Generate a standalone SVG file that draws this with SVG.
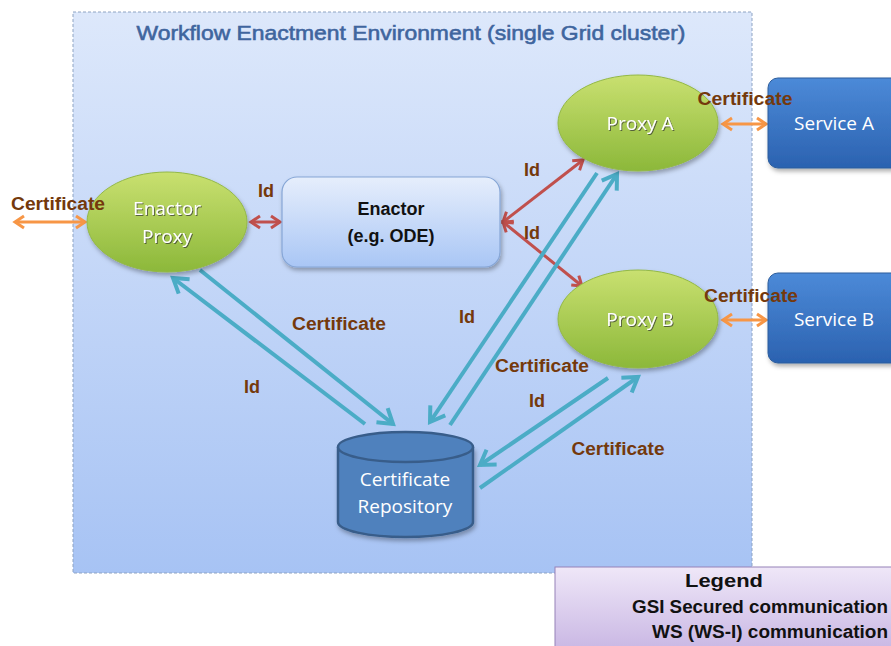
<svg xmlns="http://www.w3.org/2000/svg" width="891" height="646" viewBox="0 0 891 646">
<defs>
  <linearGradient id="gEnv" x1="0" y1="0" x2="0" y2="1">
    <stop offset="0" stop-color="#dde8fb"/>
    <stop offset="1" stop-color="#a7c3f4"/>
  </linearGradient>
  <linearGradient id="gGreen" x1="0" y1="0" x2="0" y2="1">
    <stop offset="0" stop-color="#c9e070"/>
    <stop offset="1" stop-color="#8cb83a"/>
  </linearGradient>
  <linearGradient id="gEnactor" x1="0" y1="0" x2="0" y2="1">
    <stop offset="0" stop-color="#e6eefc"/>
    <stop offset="1" stop-color="#a9c6f5"/>
  </linearGradient>
  <linearGradient id="gService" x1="0" y1="0" x2="0" y2="1">
    <stop offset="0" stop-color="#4c8ad8"/>
    <stop offset="1" stop-color="#2b62b0"/>
  </linearGradient>
  <linearGradient id="gLegend" x1="0" y1="0" x2="0" y2="1">
    <stop offset="0" stop-color="#efe7f8"/>
    <stop offset="1" stop-color="#c6b3e2"/>
  </linearGradient>
  <filter id="shadow" x="-20%" y="-20%" width="140%" height="150%">
    <feDropShadow dx="1.5" dy="3" stdDeviation="2" flood-color="#000" flood-opacity="0.3"/>
  </filter>
  <filter id="tshadow" x="-10%" y="-20%" width="120%" height="150%">
    <feDropShadow dx="1" dy="1" stdDeviation="0.6" flood-color="#333" flood-opacity="0.7"/>
  </filter>
  <marker id="mTeal" markerUnits="userSpaceOnUse" markerWidth="24" markerHeight="24" viewBox="-2 -2 24 24" refX="16" refY="10" orient="auto-start-reverse">
    <path d="M2,1 L16,10 L2,19" fill="none" stroke="#4bacc6" stroke-width="4" stroke-linejoin="miter"/>
  </marker>
  <marker id="mOrange" markerUnits="userSpaceOnUse" markerWidth="18" markerHeight="18" viewBox="-2 -2 18 18" refX="11" refY="7" orient="auto-start-reverse">
    <path d="M2,1 L11,7 L2,13" fill="none" stroke="#f79646" stroke-width="3"/>
  </marker>
  <marker id="mRed" markerUnits="userSpaceOnUse" markerWidth="18" markerHeight="18" viewBox="-2 -2 18 18" refX="11" refY="7" orient="auto-start-reverse">
    <path d="M2,1 L11,7 L2,13" fill="none" stroke="#c0504d" stroke-width="3"/>
  </marker>
  <style>
    .lbl { font-family: "Liberation Sans", Arial, sans-serif; font-weight: bold; font-size: 18px; fill: #74390c; text-anchor: middle; }
    .wt { font-family: "Open Sans", "Liberation Sans", sans-serif; font-size: 19px; fill: #ffffff; text-anchor: middle; }
    .bt { font-family: "Liberation Sans", Arial, sans-serif; font-weight: bold; font-size: 18px; fill: #111; text-anchor: middle; }
    .teal { stroke: #4bacc6; stroke-width: 4; fill: none; marker-end: url(#mTeal); }
    .orange { stroke: #f79646; stroke-width: 3; fill: none; marker-start: url(#mOrange); marker-end: url(#mOrange); }
    .red { stroke: #c0504d; stroke-width: 3; fill: none; marker-start: url(#mRed); marker-end: url(#mRed); }
    .green { fill: url(#gGreen); stroke: #93b845; stroke-width: 1; filter: url(#shadow); }
    .svc { fill: url(#gService); stroke: #2c5d9c; stroke-width: 1; filter: url(#shadow); }
  </style>
</defs>

<rect width="891" height="646" fill="#ffffff"/>

<g id="environment">
  <rect x="73" y="12" width="679" height="561" fill="url(#gEnv)" stroke="#8ea3c2" stroke-width="1" stroke-dasharray="3,2"/>
  <text x="411" y="40" font-family="Liberation Sans Narrow, Liberation Sans, Arial, sans-serif" font-size="21" fill="#3f659e" stroke="#3f659e" stroke-width="0.6" text-anchor="middle" textLength="549" lengthAdjust="spacingAndGlyphs">Workflow Enactment Environment (single Grid cluster)</text>
</g>

<g id="connectors">
  <line class="orange" x1="15" y1="222" x2="85" y2="222"/>
  <line class="red" x1="251" y1="222" x2="280" y2="222"/>
  <line class="red" x1="503" y1="222" x2="583" y2="160"/>
  <line class="red" x1="503" y1="222" x2="582" y2="286"/>
  <line class="orange" x1="723" y1="124" x2="766" y2="124"/>
  <line class="orange" x1="723" y1="320" x2="766" y2="320"/>
  <line class="teal" x1="200" y1="270" x2="393" y2="424"/>
  <line class="teal" x1="365" y1="424" x2="173" y2="278"/>
  <line class="teal" x1="597" y1="173" x2="430" y2="422"/>
  <line class="teal" x1="450" y1="425" x2="617" y2="174"/>
  <line class="teal" x1="608" y1="378" x2="480" y2="465"/>
  <line class="teal" x1="480" y1="488" x2="638" y2="377"/>
</g>

<g id="enactor-proxy">
  <ellipse class="green" cx="167" cy="222" rx="80" ry="50"/>
  <text class="wt" x="167" y="215" filter="url(#tshadow)">Enactor</text>
  <text class="wt" x="167" y="243" filter="url(#tshadow)">Proxy</text>
</g>

<g id="enactor">
  <rect x="282" y="177" width="218" height="90" rx="15" fill="url(#gEnactor)" stroke="#86a6d6" stroke-width="1.2" filter="url(#shadow)"/>
  <text class="bt" x="391" y="215">Enactor</text>
  <text class="bt" x="391" y="242">(e.g. ODE)</text>
</g>

<g id="proxy-a">
  <ellipse class="green" cx="638" cy="123" rx="80" ry="48"/>
  <text class="wt" x="640" y="130" filter="url(#tshadow)">Proxy A</text>
</g>

<g id="proxy-b">
  <ellipse class="green" cx="638" cy="319" rx="80" ry="49"/>
  <text class="wt" x="640" y="326" filter="url(#tshadow)">Proxy B</text>
</g>

<g id="service-a">
  <rect class="svc" x="768" y="78" width="140" height="90" rx="10"/>
  <text class="wt" x="834" y="130">Service A</text>
</g>

<g id="service-b">
  <rect class="svc" x="768" y="273" width="140" height="90" rx="10"/>
  <text class="wt" x="834" y="326">Service B</text>
</g>

<g id="certificate-repository">
  <path d="M338,447 L338,522 A67.5,15 0 0 0 473,522 L473,447" fill="#4f81bd" stroke="#385d8a" stroke-width="2.5" filter="url(#shadow)"/>
  <ellipse cx="405.5" cy="447" rx="67.5" ry="15" fill="#4f81bd" stroke="#385d8a" stroke-width="2.5"/>
  <text class="wt" x="405" y="486">Certificate</text>
  <text class="wt" x="405" y="513">Repository</text>
</g>

<g id="labels">
  <text class="lbl" x="58" y="210" textLength="94" lengthAdjust="spacingAndGlyphs">Certificate</text>
  <text class="lbl" x="266" y="197">Id</text>
  <text class="lbl" x="532" y="176">Id</text>
  <text class="lbl" x="532" y="239">Id</text>
  <text class="lbl" x="745" y="105" textLength="95" lengthAdjust="spacingAndGlyphs">Certificate</text>
  <text class="lbl" x="751" y="302" textLength="94" lengthAdjust="spacingAndGlyphs">Certificate</text>
  <text class="lbl" x="339" y="330" textLength="94" lengthAdjust="spacingAndGlyphs">Certificate</text>
  <text class="lbl" x="252" y="393">Id</text>
  <text class="lbl" x="467" y="323">Id</text>
  <text class="lbl" x="542" y="372" textLength="94" lengthAdjust="spacingAndGlyphs">Certificate</text>
  <text class="lbl" x="537" y="407">Id</text>
  <text class="lbl" x="618" y="455" textLength="93" lengthAdjust="spacingAndGlyphs">Certificate</text>
</g>

<g id="legend">
  <rect x="555" y="567" width="345" height="90" fill="url(#gLegend)" stroke="#9582b8" stroke-width="1"/>
  <text class="bt" x="724" y="587" textLength="78" lengthAdjust="spacingAndGlyphs">Legend</text>
  <text class="bt" x="632" y="613" style="text-anchor:start" textLength="256" lengthAdjust="spacingAndGlyphs">GSI Secured communication</text>
  <text class="bt" x="652" y="638" style="text-anchor:start" textLength="236" lengthAdjust="spacingAndGlyphs">WS (WS-I) communication</text>
</g>
</svg>
